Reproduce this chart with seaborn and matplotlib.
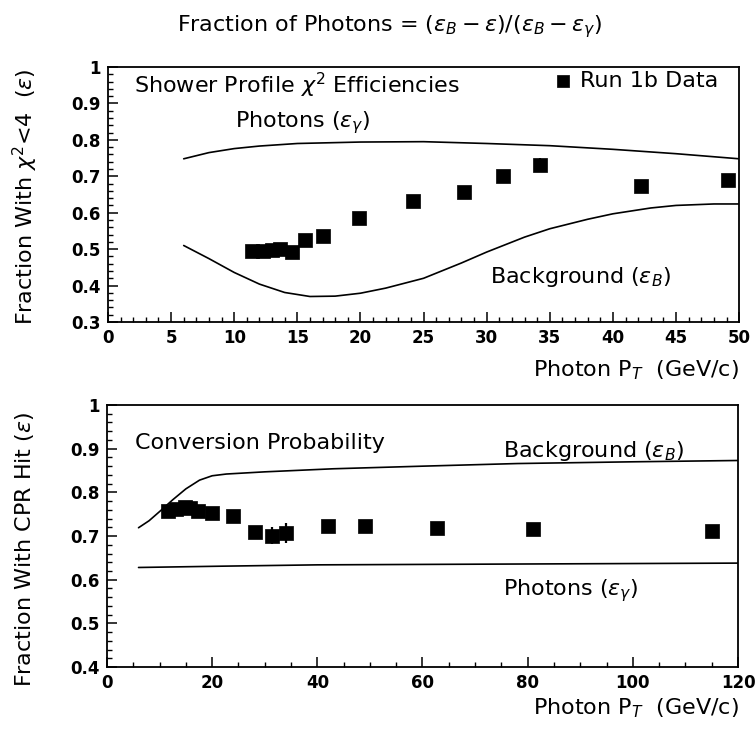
import numpy as np
import pandas as pd
import matplotlib
matplotlib.use("Agg")
import matplotlib.pyplot as plt
import seaborn as sns
from matplotlib.ticker import MultipleLocator, FuncFormatter

# ---------------- data: top panel (shower profile chi2) ----------------
top_pt = [11.4, 12.3, 13.0, 13.6, 14.6, 15.6, 17.0, 19.9, 24.2, 28.2, 31.3, 34.2, 42.2, 49.1]
top_eff = [0.495, 0.496, 0.497, 0.500, 0.493, 0.524, 0.537, 0.585, 0.633, 0.658, 0.700, 0.731, 0.673, 0.689]
top_err = [0.006, 0.006, 0.006, 0.006, 0.006, 0.007, 0.007, 0.008, 0.009, 0.010, 0.016, 0.020, 0.010, 0.010]

top_gam_x = [6, 8, 10, 12, 15, 20, 25, 30, 35, 40, 45, 50]
top_gam_y = [0.748, 0.765, 0.776, 0.783, 0.790, 0.794, 0.795, 0.790, 0.784, 0.774, 0.762, 0.748]

top_bkg_x = [6, 8, 10, 12, 14, 16, 18, 20, 22, 25, 28, 30, 33, 35, 38, 40, 43, 45, 48, 50]
top_bkg_y = [0.510, 0.474, 0.436, 0.404, 0.381, 0.370, 0.371, 0.379, 0.393, 0.420, 0.462, 0.492, 0.533, 0.556, 0.582, 0.597, 0.613, 0.620, 0.624, 0.624]

# ---------------- data: bottom panel (CPR conversion probability) ----------------
bot_pt = [11.6, 13.2, 14.8, 15.7, 17.3, 20.0, 24.0, 28.1, 31.4, 34.0, 42.1, 49.1, 62.7, 81.0, 115.0]
bot_eff = [0.757, 0.762, 0.767, 0.765, 0.757, 0.753, 0.745, 0.709, 0.701, 0.707, 0.722, 0.724, 0.718, 0.717, 0.711]
bot_err = [0.006, 0.006, 0.006, 0.006, 0.006, 0.007, 0.008, 0.010, 0.020, 0.022, 0.008, 0.008, 0.007, 0.007, 0.006]

bot_bkg_x = [6, 8, 10, 12.5, 15, 17.6, 20, 22.7, 30, 43, 60, 78, 100, 120]
bot_bkg_y = [0.719, 0.735, 0.756, 0.783, 0.808, 0.828, 0.838, 0.842, 0.847, 0.854, 0.860, 0.866, 0.870, 0.873]

bot_gam_x = [6, 22, 40, 80, 120]
bot_gam_y = [0.628, 0.631, 0.634, 0.636, 0.638]

# ---------------- style ----------------
sns.set_theme(style="ticks")
plt.rcParams["font.family"] = ["DejaVu Sans"]
plt.rcParams["mathtext.fontset"] = "dejavusans"
plt.rcParams["text.color"] = "black"
plt.rcParams["axes.labelcolor"] = "black"
plt.rcParams["xtick.color"] = "black"
plt.rcParams["ytick.color"] = "black"
FS = 16

fig = plt.figure(figsize=(7.55, 7.29), dpi=100)
ax1 = fig.add_axes([0.143, 0.5583, 0.836, 0.3498])
ax2 = fig.add_axes([0.1417, 0.085, 0.8358, 0.3594])

fmt = FuncFormatter(lambda v, p: f"{v:g}")

def style_axes(ax, xmaj, xmin):
    for s in ax.spines.values():
        s.set_linewidth(1.3)
        s.set_color("black")
    ax.xaxis.set_major_locator(MultipleLocator(xmaj))
    ax.xaxis.set_minor_locator(MultipleLocator(xmin))
    ax.yaxis.set_major_locator(MultipleLocator(0.1))
    ax.yaxis.set_minor_locator(MultipleLocator(0.02))
    ax.tick_params(which="both", direction="in", top=False, right=False, color="black")
    ax.tick_params(which="major", length=7, width=1.1, pad=5)
    ax.tick_params(which="minor", length=3.5, width=1.0)
    ax.xaxis.set_major_formatter(fmt)
    ax.yaxis.set_major_formatter(fmt)
    for lab in ax.get_xticklabels() + ax.get_yticklabels():
        lab.set_fontweight("bold")
        lab.set_fontsize(12)
        lab.set_color("black")
    ax.set_xlabel("")
    ax.set_ylabel("")

# ---------------- top panel ----------------
df_top = pd.DataFrame({"pt": top_pt, "eff": top_eff, "err": top_err})
sns.lineplot(x=top_gam_x, y=top_gam_y, ax=ax1, color="black", lw=1.2, sort=False, estimator=None)
sns.lineplot(x=top_bkg_x, y=top_bkg_y, ax=ax1, color="black", lw=1.2, sort=False, estimator=None)
ax1.errorbar(df_top["pt"], df_top["eff"], yerr=df_top["err"], fmt="none", ecolor="black", elinewidth=1.6, capsize=0)
sns.scatterplot(data=df_top, x="pt", y="eff", ax=ax1, marker="s", s=95, color="black",
                edgecolor="black", linewidth=0.5, label="Run 1b Data", zorder=5)
ax1.set_xlim(0, 50)
ax1.set_ylim(0.3, 1.0)
style_axes(ax1, 5, 1)
leg = ax1.legend(loc="upper right", bbox_to_anchor=(0.981, 1.02), frameon=False, fontsize=FS,
                 handletextpad=0.25, borderaxespad=0.0, handlelength=1.0, markerscale=0.85)
for t in leg.get_texts():
    t.set_color("black")

ax1.text(2.1, 0.929, r"Shower Profile $\chi^2$ Efficiencies", fontsize=FS, va="baseline", ha="left")
ax1.text(10.06, 0.835, r"Photons ($\varepsilon_\gamma$)", fontsize=FS, va="baseline", ha="left")
ax1.text(30.3, 0.406, r"Background ($\varepsilon_B$)", fontsize=FS, va="baseline", ha="left")

fig.text(0.033, 0.73, r"Fraction With $\chi^2$<4  ($\varepsilon$)", rotation=90, fontsize=FS,
         va="center", ha="center")
fig.text(0.978, 0.492, r"Photon P$_T$  (GeV/c)", fontsize=FS, ha="right", va="center")

# ---------------- bottom panel ----------------
df_bot = pd.DataFrame({"pt": bot_pt, "eff": bot_eff, "err": bot_err})
sns.lineplot(x=bot_bkg_x, y=bot_bkg_y, ax=ax2, color="black", lw=1.2, sort=False, estimator=None)
sns.lineplot(x=bot_gam_x, y=bot_gam_y, ax=ax2, color="black", lw=1.2, sort=False, estimator=None)
ax2.errorbar(df_bot["pt"], df_bot["eff"], yerr=df_bot["err"], fmt="none", ecolor="black", elinewidth=1.6, capsize=0)
sns.scatterplot(data=df_bot, x="pt", y="eff", ax=ax2, marker="s", s=95, color="black",
                edgecolor="black", linewidth=0.5, zorder=5, legend=False)
ax2.set_xlim(0, 120)
ax2.set_ylim(0.4, 1.0)
style_axes(ax2, 20, 5)

ax2.text(5.3, 0.90, "Conversion Probability", fontsize=FS, va="baseline", ha="left")
ax2.text(75.4, 0.881, r"Background ($\varepsilon_B$)", fontsize=FS, va="baseline", ha="left")
ax2.text(75.4, 0.565, r"Photons ($\varepsilon_\gamma$)", fontsize=FS, va="baseline", ha="left")

fig.text(0.033, 0.247, r"Fraction With CPR Hit ($\varepsilon$)", rotation=90, fontsize=FS,
         va="center", ha="center")
fig.text(0.978, 0.029, r"Photon P$_T$  (GeV/c)", fontsize=FS, ha="right", va="center")

# ---------------- title ----------------
fig.text(0.516, 0.963, r"Fraction of Photons = $(\varepsilon_B - \varepsilon)/(\varepsilon_B - \varepsilon_\gamma)$",
         fontsize=FS, ha="center", va="center")

fig.savefig("out.png", dpi=100, facecolor="white")
